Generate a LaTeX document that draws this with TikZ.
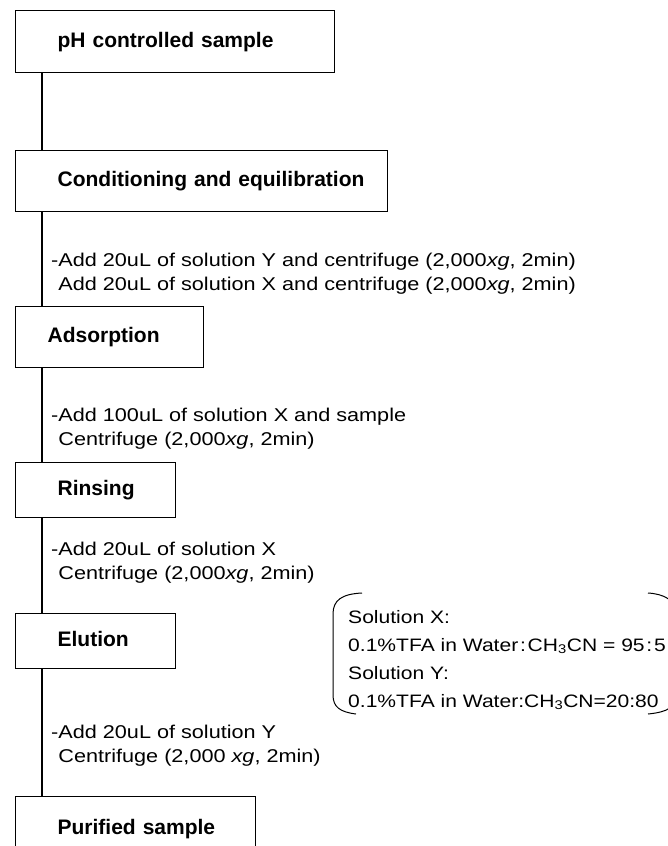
\documentclass[tikz,border=0pt]{standalone}
\usepackage{fontspec}
\setmainfont{Liberation Sans}[FakeStretch=1.17]
\newfontfamily\stagefont{Liberation Sans}
\usetikzlibrary{positioning}
\setlength{\parindent}{0pt}
\hyphenpenalty=10000
\exhyphenpenalty=10000

\begin{document}
\begin{tikzpicture}[
  x=1pt, y=-1pt,
  stage/.style={draw, line width=1.2pt, anchor=north west, inner sep=0pt,
    align=left, text height=15.5pt, text depth=4.5pt,
    font=\stagefont\bfseries\fontsize{21}{25}\selectfont,
    execute at begin node={\hspace*{#1}}},
  stage/.default=42pt,
  note/.style={anchor=west, align=left, inner sep=0pt,
    font=\fontsize{18.5}{24}\selectfont},
  flow/.style={line width=1.2pt},
  brk/.style={line width=1pt},
]
\useasboundingbox (0,0) rectangle (667,846);

% Stages
\node[stage, text width=319pt, minimum height=62pt] (ph) at (15,10) {pH controlled sample};
\node[stage, text width=372pt, minimum height=61pt] (cond) at (15,150) {Conditioning and equilibration};
\node[stage=32pt, text width=188pt, minimum height=61pt] (ads) at (15,306) {Adsorption};
\node[stage, text width=160pt, minimum height=55pt] (rins) at (15,462) {Rinsing};
\node[stage, text width=160pt, minimum height=55pt] (elut) at (15,613) {Elution};
\node[stage, text width=240pt, minimum height=64pt] (puri) at (15,796) {Purified sample};

% Flow line
\foreach \a/\b in {ph/cond, cond/ads, ads/rins, rins/elut, elut/puri}
  \draw[flow] ([xshift=27pt]\a.south west) -- ([xshift=27pt]\b.north west);

% Steps
\node[note] (s1) at (51,274) {-Add 20uL of solution Y and centrifuge (2,000\textit{xg}, 2min)\\
  \hphantom{-}Add 20uL of solution X and centrifuge (2,000\textit{xg}, 2min)};
\node[note] (s2) at (51,429) {-Add 100uL of solution X and sample\\
  \hphantom{-}Centrifuge (2,000\textit{xg}, 2min)};
\node[note] (s3) at (51,563) {-Add 20uL of solution X\\
  \hphantom{-}Centrifuge (2,000\textit{xg}, 2min)};
\node[note] (s4) at (51,746) {-Add 20uL of solution Y\\
  \hphantom{-}Centrifuge (2,000 \textit{xg}, 2min)};

% Solutions
\node[note, font=\fontsize{18}{28}\selectfont] (soln) at (348,660) {Solution X:\\
  0.1\%TFA in Water\hspace{0.1em}:\hspace{0.1em}CH\textsubscript{3}CN = 95\hspace{0.1em}:\hspace{0.1em}5\\
  Solution Y:\\
  0.1\%TFA in Water:CH\textsubscript{3}CN=20:80};
\draw[brk] (362,593) .. controls (342,594) and (333,600) .. (333,614)
  -- (333,695) .. controls (333,707) and (340,712) .. (356,714);
\draw[brk] (648,593) .. controls (664,594) and (676,600) .. (676,614)
  -- (676,695) .. controls (676,707) and (668,712) .. (648,714);
\end{tikzpicture}
\end{document}
